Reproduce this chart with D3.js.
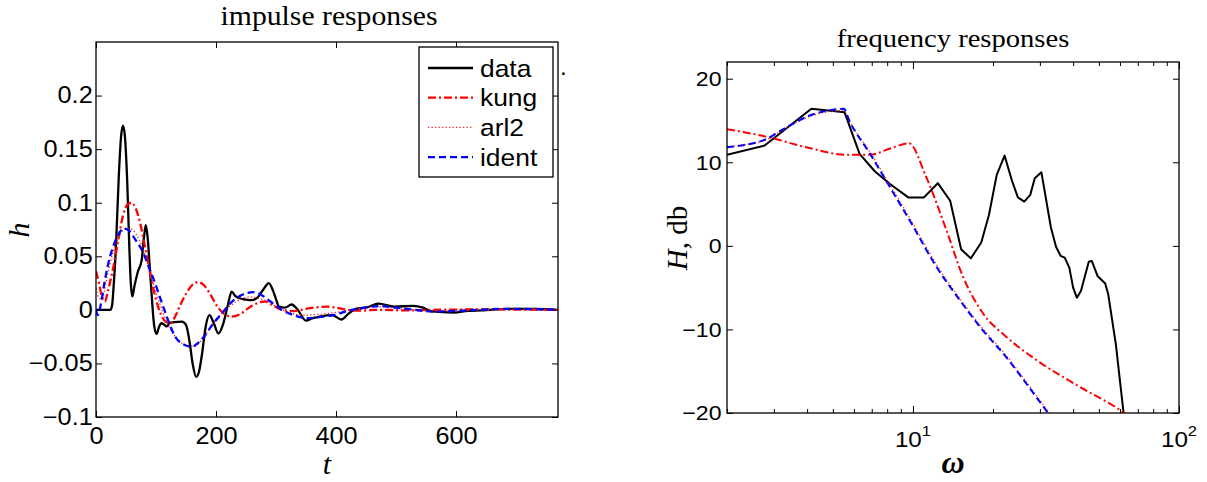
<!DOCTYPE html>
<html lang="en">
  <head>
    <meta charset="UTF-8" />
    <title>impulse and frequency responses</title>
    <script src="https://d3js.org/d3.v7.min.js"></script>
    <style>
      body { margin: 0; background: #fff; }
      .tick line { stroke: #000; stroke-width: 1; }
    </style>
  </head>
  <body>
    <div class="chart"></div>
  </body>

  <script>
    // ---- impulse responses (left panel) ----
    var impT_data = [0, 24, 27, 29, 33, 38, 42, 45, 48, 52, 55.7, 58, 60.5, 64, 70, 76, 80, 83, 86, 89, 93, 97, 101, 105, 109, 114, 118, 123, 130, 143, 150, 156, 161, 167, 172, 177, 183, 189, 196, 204, 212, 220, 226, 232, 238, 250, 260, 270, 280, 288, 295, 300, 305, 315, 326, 335, 350, 360, 375, 394, 409, 420, 433, 450, 471, 497, 529, 545, 560, 596, 620, 643, 688, 733, 770];
    var impH_data = [0, 0, 0.005, 0.019, 0.056, 0.125, 0.163, 0.172, 0.163, 0.12, 0.056, 0.025, 0.0125, 0.022, 0.036, 0.046, 0.068, 0.079, 0.068, 0.045, 0.012, -0.015, -0.0225, -0.016, -0.0125, -0.014, -0.0155, -0.012, -0.0115, -0.011, -0.014, -0.03, -0.05, -0.0625, -0.057, -0.04, -0.015, -0.005, -0.012, -0.022, -0.013, 0.005, 0.017, 0.013, 0.011, 0.0095, 0.009, 0.012, 0.02, 0.025, 0.018, 0.01, 0.003, 0.002, 0.005, 0.001, -0.01, -0.008, -0.006, -0.005, -0.009, -0.004, 0.001, 0.002, 0.0058, 0.003, 0.0037, 0.002, -0.0015, -0.0025, -0.001, -0.0005, 0.001, 0.0008, 0];

    var impT_kung = [0, 5, 10, 15, 20, 29, 37, 45, 52, 59, 66, 74, 82, 90, 98, 108, 116, 124, 132, 140, 150, 160, 170, 180, 190, 200, 212, 226, 240, 255, 270, 282, 295, 310, 330, 350, 370, 385, 410, 435, 470, 520, 560, 650, 770];
    var impH_kung = [0.036, 0.025, 0.012, 0.0077, 0.018, 0.04, 0.065, 0.088, 0.098, 0.1, 0.095, 0.08, 0.058, 0.035, 0.014, -0.004, -0.011, -0.0125, -0.006, 0.004, 0.015, 0.023, 0.0258, 0.023, 0.015, 0.005, -0.003, -0.0064, -0.004, 0.002, 0.0065, 0.0078, 0.004, 0, -0.0012, 0.001, 0.0025, 0.003, 0.001, -0.0008, 0, -0.0005, 0, 0.0004, 0];

    var impT_arl2 = [0, 4, 10, 18, 28, 40, 50, 60, 72, 85, 98, 110, 122, 135, 150, 162, 175, 190, 205, 220, 235, 255, 270, 285, 300, 320, 345, 375, 405, 435, 470, 510, 560, 640, 770];
    var impH_arl2 = [0.02, 0.012, 0.01, 0.03, 0.053, 0.07, 0.076, 0.075, 0.065, 0.045, 0.02, 0, -0.016, -0.027, -0.033, -0.034, -0.029, -0.017, -0.006, 0.002, 0.008, 0.012, 0.011, 0.008, 0.003, -0.002, -0.005, -0.004, -0.002, 0.001, 0.003, 0.001, -0.001, 0.0003, 0];

    var impT_ident = [0, 3, 8, 14, 20.6, 28, 37, 46, 55, 65, 79, 88, 98.5, 107, 115, 123, 132, 145, 160, 170, 180, 195, 210, 222, 237.6, 250, 262, 277, 290, 300, 310, 330, 352, 375, 396, 420, 441, 474, 500, 524, 563, 600, 635, 690, 730, 770];
    var impH_ident = [0, -0.005, 0.005, 0.025, 0.0435, 0.058, 0.07, 0.076, 0.074, 0.066, 0.053, 0.04, 0.0248, 0.011, -0.0017, -0.014, -0.025, -0.032, -0.0344, -0.031, -0.025, -0.013, -0.0032, 0.005, 0.0123, 0.0155, 0.0165, 0.0135, 0.008, 0.004, -0.0001, -0.005, -0.0078, -0.0065, -0.0048, -0.001, 0.0015, 0.0036, 0.002, 0.0005, -0.0016, -0.001, 0, 0.001, 0.0007, 0];

    var impXTicks = [0, 200, 400, 600];
    var impYTicks = [-0.1, -0.05, 0, 0.05, 0.1, 0.15, 0.2];
    var impYTickLabels = ["\u22120.1", "\u22120.05", "0", "0.05", "0.1", "0.15", "0.2"];

    // ---- frequency responses (right panel) ----
    var frqW_data = [2, 2.77, 4.15, 5.53, 6.3, 7.2, 8.2, 9.6, 11.0, 12.4, 13.8, 15.17, 16.5, 18.06, 19.3, 20.65, 22.1, 23.5, 24.8, 26.2, 27.6, 28.7, 30.4, 33.0, 34.5, 35.9, 37.2, 38.7, 40.0, 41.3, 42.8, 45.8, 47.0, 49.4, 52.8, 54.2, 57.9, 61.9];
    var frqH_data = [10.9, 12.0, 16.4, 16.0, 11.0, 8.9, 7.4, 5.8, 5.8, 7.5, 5.4, -0.4, -1.5, 0.4, 3.7, 8.5, 10.8, 7.9, 5.8, 5.3, 6.1, 8.1, 8.8, 2.2, -0.1, -1.2, -1.4, -2.6, -5.0, -6.2, -5.4, -1.9, -1.8, -3.6, -4.5, -5.8, -11.8, -20];

    var frqW_kung = [2, 2.81, 3.97, 5.61, 6.87, 8.3, 9.66, 11.2, 13.35, 15.42, 18.33, 22.4, 29.1, 41.2, 60, 63];
    var frqH_kung = [13.95, 13.07, 11.8, 10.9, 10.9, 11.7, 12.27, 8.28, 1.9, -3.69, -8.07, -10.87, -13.66, -16.65, -19.64, -20.1];

    var frqW_arl2 = [2, 2.77, 3.15, 4.1, 5.5, 5.8, 6.9, 8.2, 9.9, 12.3, 15.0, 18.3, 22.4, 26.7, 32.5];
    var frqH_arl2 = [11.9, 12.6, 13.6, 15.5, 16.2, 14.8, 11.2, 7.3, 2.9, -2.3, -6.3, -9.9, -13.1, -16.3, -20];

    var frqW_ident = [2, 2.77, 3.15, 4.1, 5.5, 5.78, 6.87, 8.17, 9.86, 12.25, 15.0, 18.3, 22.4, 26.7, 32.2];
    var frqH_ident = [11.8, 12.7, 13.7, 15.6, 16.4, 14.9, 11.1, 7.1, 2.7, -2.5, -6.5, -10.1, -13.3, -16.5, -20];

    var frqYTicks = [-20, -10, 0, 10, 20];
    var frqYTickLabels = ["\u221220", "\u221210", "0", "10", "20"];
    var frqXMajor = [10, 100];
    var frqXMajorExp = ["1", "2"];
    var frqXMinor = [2, 3, 4, 5, 6, 7, 8, 9, 20, 30, 40, 50, 60, 70, 80, 90];

    var legendNames = ["data", "kung", "arl2", "ident"];

    var styles = {
      data: { color: "#000", width: 2.3, dash: null },
      kung: { color: "#ff0000", width: 2.3, dash: "8,3,2,3" },
      arl2: { color: "#ff2020", width: 1.3, dash: "1.3,2.2" },
      ident: { color: "#0000ff", width: 2.3, dash: "7,4" },
    };

    var sansFont = "'Liberation Sans', Arial, Helvetica, sans-serif";
    var serifFont = "'Liberation Serif', 'Times New Roman', serif";
    var stretch = "scale(1.1,1)";

    var svg = d3
      .select(".chart")
      .append("svg")
      .attr("width", 1207)
      .attr("height", 482)
      .style("background", "#fff");

    function styleTicks(g, size) {
      g.select(".domain").remove();
      g.selectAll(".tick text")
        .attr("font-size", size)
        .attr("font-family", sansFont)
        .attr("fill", "#000")
        .attr("transform", stretch);
    }

    function drawSeries(g, xs, ys, x, y, st, curve) {
      var pts = xs.map(function (v, i) {
        return [v, ys[i]];
      });
      g.append("path")
        .datum(pts)
        .attr("fill", "none")
        .attr("stroke", st.color)
        .attr("stroke-width", st.width)
        .attr("stroke-dasharray", st.dash)
        .attr("stroke-linejoin", "round")
        .attr("d", d3.line().curve(curve).x(function (d) { return x(d[0]); }).y(function (d) { return y(d[1]); }));
    }

    // =============== left panel ===============
    var imp = { left: 96, top: 42, right: 558, bottom: 417 };
    var xImp = d3.scaleLinear().domain([0, 770]).range([imp.left, imp.right]);
    var yImp = d3.scaleLinear().domain([-0.1, 0.25]).range([imp.bottom, imp.top]);

    svg.append("clipPath").attr("id", "clipImp").append("rect")
      .attr("x", imp.left).attr("y", imp.top)
      .attr("width", imp.right - imp.left).attr("height", imp.bottom - imp.top);

    svg.append("g").attr("transform", "translate(0," + imp.bottom + ")")
      .call(d3.axisBottom(xImp).tickValues(impXTicks).tickFormat(d3.format("d")).tickSize(-6).tickSizeOuter(0).tickPadding(11))
      .call(styleTicks, 23);
    svg.append("g").attr("transform", "translate(0," + imp.top + ")")
      .call(d3.axisTop(xImp).tickValues(impXTicks).tickFormat("").tickSize(-6).tickSizeOuter(0))
      .call(styleTicks, 23);
    svg.append("g").attr("transform", "translate(" + imp.left + ",0)")
      .call(d3.axisLeft(yImp).tickValues(impYTicks).tickFormat(function (d, i) { return impYTickLabels[i]; }).tickSize(-6).tickSizeOuter(0).tickPadding(3))
      .call(styleTicks, 23);
    svg.append("g").attr("transform", "translate(" + imp.right + ",0)")
      .call(d3.axisRight(yImp).tickValues(impYTicks).tickFormat("").tickSize(-6).tickSizeOuter(0))
      .call(styleTicks, 23);

    var impLines = svg.append("g").attr("clip-path", "url(#clipImp)");
    drawSeries(impLines, impT_data, impH_data, xImp, yImp, styles.data, d3.curveMonotoneX);
    drawSeries(impLines, impT_kung, impH_kung, xImp, yImp, styles.kung, d3.curveMonotoneX);
    drawSeries(impLines, impT_arl2, impH_arl2, xImp, yImp, styles.arl2, d3.curveMonotoneX);
    drawSeries(impLines, impT_ident, impH_ident, xImp, yImp, styles.ident, d3.curveMonotoneX);

    svg.append("rect")
      .attr("x", imp.left).attr("y", imp.top)
      .attr("width", imp.right - imp.left).attr("height", imp.bottom - imp.top)
      .attr("fill", "none").attr("stroke", "#000").attr("stroke-width", 1.3);

    // legend
    var leg = svg.append("g").attr("transform", "translate(419,47)");
    leg.append("rect").attr("width", 134).attr("height", 130)
      .attr("fill", "#fff").attr("stroke", "#000").attr("stroke-width", 1.3);
    legendNames.forEach(function (name, i) {
      var cy = 21 + i * 29.7;
      var st = styles[name];
      leg.append("line")
        .attr("x1", 9).attr("x2", 54).attr("y1", cy).attr("y2", cy)
        .attr("stroke", st.color).attr("stroke-width", st.width)
        .attr("stroke-dasharray", st.dash);
      leg.append("text")
        .attr("transform", "translate(61," + (cy + 8.5) + ") " + stretch)
        .attr("font-family", sansFont).attr("font-size", 24)
        .text(name);
    });
    svg.append("text").attr("x", 560).attr("y", 75)
      .attr("font-family", sansFont).attr("font-size", 24).text(".");

    svg.append("text")
      .attr("transform", "translate(329,25) " + stretch)
      .attr("text-anchor", "middle").attr("font-family", serifFont).attr("font-size", 27)
      .text("impulse responses");
    svg.append("text")
      .attr("transform", "translate(327,474)")
      .attr("text-anchor", "middle").attr("font-family", serifFont).attr("font-size", 30)
      .attr("font-style", "italic").text("t");
    svg.append("text")
      .attr("transform", "translate(29,230) rotate(-90)")
      .attr("text-anchor", "middle").attr("font-family", serifFont).attr("font-size", 30)
      .attr("font-style", "italic").text("h");

    // =============== right panel ===============
    var frq = { left: 727, top: 62, right: 1179, bottom: 413 };
    var xFrq = d3.scaleLog().domain([2, 100]).range([frq.left, frq.right]);
    var yFrq = d3.scaleLinear().domain([-20, 22]).range([frq.bottom, frq.top]);

    svg.append("clipPath").attr("id", "clipFrq").append("rect")
      .attr("x", frq.left).attr("y", frq.top)
      .attr("width", frq.right - frq.left).attr("height", frq.bottom - frq.top);

    [[frq.bottom, d3.axisBottom], [frq.top, d3.axisTop]].forEach(function (a) {
      svg.append("g").attr("transform", "translate(0," + a[0] + ")")
        .call(a[1](xFrq).tickValues(frqXMajor).tickFormat("").tickSize(-7).tickSizeOuter(0))
        .call(styleTicks, 20);
      svg.append("g").attr("transform", "translate(0," + a[0] + ")")
        .call(a[1](xFrq).tickValues(frqXMinor).tickFormat("").tickSize(-4).tickSizeOuter(0))
        .call(styleTicks, 20);
    });
    svg.append("g").attr("transform", "translate(" + frq.left + ",0)")
      .call(d3.axisLeft(yFrq).tickValues(frqYTicks).tickFormat(function (d, i) { return frqYTickLabels[i]; }).tickSize(-6).tickSizeOuter(0).tickPadding(5))
      .call(styleTicks, 21);
    svg.append("g").attr("transform", "translate(" + frq.right + ",0)")
      .call(d3.axisRight(yFrq).tickValues(frqYTicks).tickFormat("").tickSize(-6).tickSizeOuter(0))
      .call(styleTicks, 21);

    frqXMajor.forEach(function (w, i) {
      var t = svg.append("text")
        .attr("transform", "translate(" + xFrq(w) + ",447) " + stretch)
        .attr("text-anchor", "middle").attr("font-family", sansFont).attr("font-size", 22);
      t.append("tspan").text("10");
      t.append("tspan").attr("dy", -11).attr("font-size", 15).text(frqXMajorExp[i]);
    });

    var frqLines = svg.append("g").attr("clip-path", "url(#clipFrq)");
    drawSeries(frqLines, frqW_data, frqH_data, xFrq, yFrq, { color: "#000", width: 2, dash: null }, d3.curveLinear);
    drawSeries(frqLines, frqW_kung, frqH_kung, xFrq, yFrq, { color: "#ff0000", width: 2, dash: "8,3,2,3" }, d3.curveMonotoneX);
    drawSeries(frqLines, frqW_arl2, frqH_arl2, xFrq, yFrq, { color: "#ff2020", width: 1.2, dash: "1.3,2.2" }, d3.curveMonotoneX);
    drawSeries(frqLines, frqW_ident, frqH_ident, xFrq, yFrq, { color: "#0000ff", width: 2, dash: "7,4" }, d3.curveMonotoneX);

    svg.append("rect")
      .attr("x", frq.left).attr("y", frq.top)
      .attr("width", frq.right - frq.left).attr("height", frq.bottom - frq.top)
      .attr("fill", "none").attr("stroke", "#000").attr("stroke-width", 1.3);

    svg.append("text")
      .attr("transform", "translate(953,47) " + stretch)
      .attr("text-anchor", "middle").attr("font-family", serifFont).attr("font-size", 26)
      .text("frequency responses");
    svg.append("text")
      .attr("transform", "translate(953,473)")
      .attr("text-anchor", "middle").attr("font-family", serifFont).attr("font-size", 32)
      .attr("font-style", "italic").attr("font-weight", "bold").text("\u03c9");
    var yl = svg.append("text")
      .attr("transform", "translate(687,238) rotate(-90)")
      .attr("text-anchor", "middle").attr("font-family", serifFont).attr("font-size", 29);
    yl.append("tspan").attr("font-style", "italic").text("H");
    yl.append("tspan").text(", db");
  </script>
</html>
